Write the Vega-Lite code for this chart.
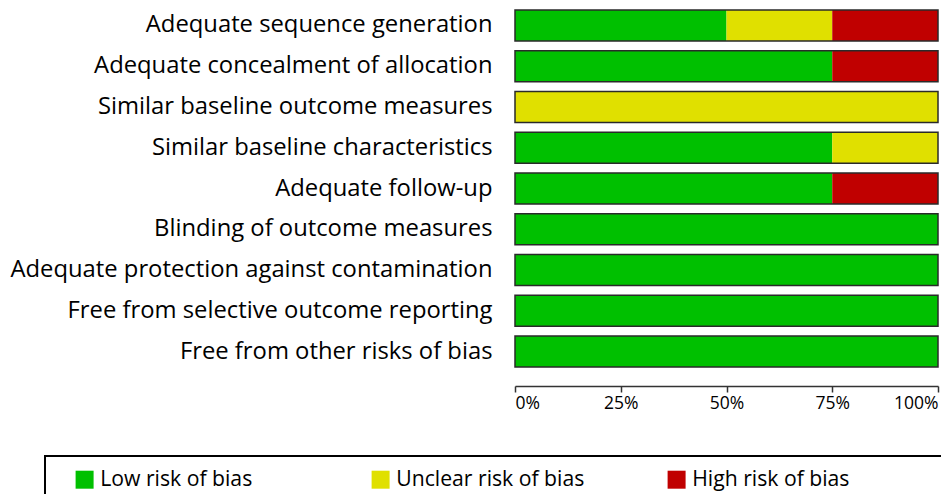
{
  "$schema": "https://vega.github.io/schema/vega-lite/v6.json",
  "width": 423,
  "height": 377,
  "autosize": {"type": "none"},
  "padding": {"left": 515, "top": 0, "right": 3, "bottom": 117},
  "background": "white",
  "config": {"view": {"stroke": null}, "font": "Open Sans"},
  "datasets": {
    "levels": [
      {"risk": "Low risk of bias", "rank": 1},
      {"risk": "Unclear risk of bias", "rank": 2},
      {"risk": "High risk of bias", "rank": 3}
    ]
  },
  "data": {
    "values": [
      {"item": "Adequate sequence generation", "risk": "Low risk of bias", "value": 50},
      {"item": "Adequate sequence generation", "risk": "Unclear risk of bias", "value": 25},
      {"item": "Adequate sequence generation", "risk": "High risk of bias", "value": 25},
      {"item": "Adequate concealment of allocation", "risk": "Low risk of bias", "value": 75},
      {"item": "Adequate concealment of allocation", "risk": "High risk of bias", "value": 25},
      {"item": "Similar baseline outcome measures", "risk": "Unclear risk of bias", "value": 100},
      {"item": "Similar baseline characteristics", "risk": "Low risk of bias", "value": 75},
      {"item": "Similar baseline characteristics", "risk": "Unclear risk of bias", "value": 25},
      {"item": "Adequate follow-up", "risk": "Low risk of bias", "value": 75},
      {"item": "Adequate follow-up", "risk": "High risk of bias", "value": 25},
      {"item": "Blinding of outcome measures", "risk": "Low risk of bias", "value": 100},
      {"item": "Adequate protection against contamination", "risk": "Low risk of bias", "value": 100},
      {"item": "Free from selective outcome reporting", "risk": "Low risk of bias", "value": 100},
      {"item": "Free from other risks of bias", "risk": "Low risk of bias", "value": 100}
    ]
  },
  "transform": [
    {"lookup": "risk", "from": {"data": {"name": "levels"}, "key": "risk", "fields": ["rank"]}}
  ],
  "encoding": {
    "y": {
      "field": "item",
      "type": "nominal",
      "sort": null,
      "scale": {"paddingInner": 0.24, "paddingOuter": 0.245},
      "axis": {
        "title": null,
        "ticks": false,
        "domain": false,
        "labelPadding": 23,
        "labelFontSize": 23.8,
        "labelColor": "black",
        "labelLimit": 600
      }
    }
  },
  "layer": [
    {
      "mark": {"type": "bar"},
      "encoding": {
        "x": {
          "field": "value",
          "type": "quantitative",
          "stack": "zero",
          "scale": {"domain": [0, 100]},
          "axis": {
            "title": null,
            "values": [0, 25, 50, 75, 100],
            "labelExpr": "datum.value + '%'",
            "grid": false,
            "offset": 9,
            "domainColor": "#333333",
            "domainWidth": 1.5,
            "tickColor": "#333333",
            "tickWidth": 1.5,
            "tickSize": 6,
            "labelFlush": true,
            "labelFontSize": 17.5,
            "labelColor": "black",
            "labelPadding": 2
          }
        },
        "order": {"field": "rank", "type": "quantitative", "sort": "ascending"},
        "color": {
          "field": "risk",
          "type": "nominal",
          "sort": ["Low risk of bias", "Unclear risk of bias", "High risk of bias"],
          "scale": {
            "domain": ["Low risk of bias", "Unclear risk of bias", "High risk of bias"],
            "range": ["#00C000", "#E0E000", "#C00000"]
          },
          "legend": {
            "orient": "none",
            "legendX": -470,
            "legendY": 456,
            "direction": "horizontal",
            "title": "\u00a0",
            "titleOrient": "right",
            "titlePadding": 80,
            "symbolType": "square",
            "symbolSize": 324,
            "symbolOffset": 16,
            "symbolStrokeWidth": 0,
            "labelOffset": 5,
            "labelFontSize": 21.2,
            "labelColor": "black",
            "labelLimit": 400,
            "padding": 13,
            "strokeColor": "black",
            "columnPadding": 65,
            "gridAlign": "all",
            "encode": {
              "legend": {
                "update": {"strokeWidth": {"value": 2}}
              }
            }
          }
        }
      }
    },
    {
      "mark": {"type": "bar", "fillOpacity": 0, "stroke": "#2a2a2a", "strokeWidth": 1.5},
      "encoding": {
        "x": {
          "aggregate": "sum",
          "field": "value",
          "type": "quantitative",
          "axis": {
            "title": null,
            "values": [0, 25, 50, 75, 100],
            "labelExpr": "datum.value + '%'",
            "grid": false,
            "offset": 9,
            "domainColor": "#333333",
            "domainWidth": 1.5,
            "tickColor": "#333333",
            "tickWidth": 1.5,
            "tickSize": 6,
            "labelFlush": true,
            "labelFontSize": 17.5,
            "labelColor": "black",
            "labelPadding": 2
          }
        }
      }
    }
  ]
}
